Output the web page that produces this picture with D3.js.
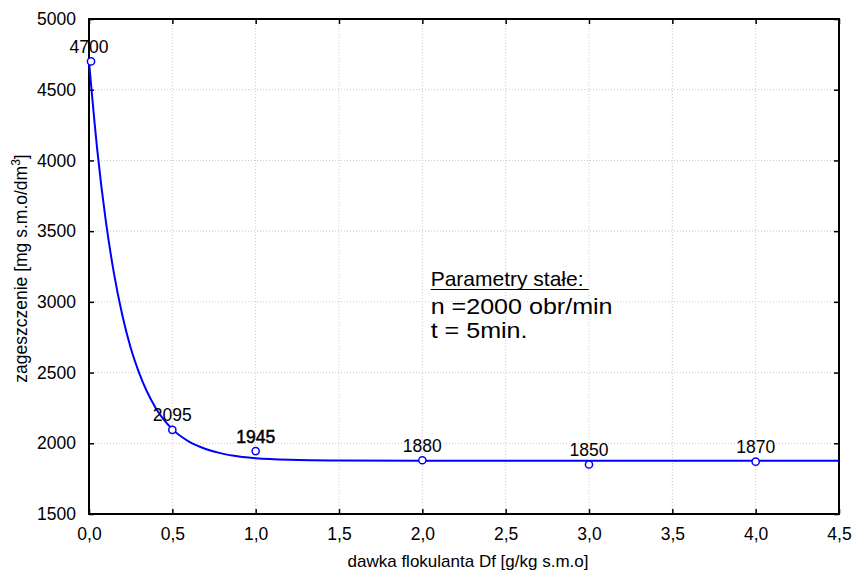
<!DOCTYPE html>
<html>
<head>
<meta charset="utf-8">
<script src="https://cdn.jsdelivr.net/npm/d3@7"></script>
<style>
  body { margin: 0; background: #fff; }
  text { font-family: "Liberation Sans", Arial, sans-serif; fill: #000; }
</style>
</head>
<body>
<figure id="chart" style="margin:0"></figure>
<script>
// measured points
const doses = [0, 0.5, 1, 2, 3, 4];
const thickening = [4700, 2095, 1945, 1880, 1850, 1870];

// fitted curve
const curveX = [0, 0.05, 0.1, 0.15, 0.2, 0.25, 0.3, 0.4, 0.5, 0.6, 0.7, 0.8, 0.9, 1.0, 1.2, 1.5, 2.0, 3.0, 4.0, 4.5];
const curveY = [4700, 4070, 3580, 3200, 2905, 2675, 2500, 2250, 2100, 2012, 1960, 1927, 1907, 1895, 1884, 1879, 1877, 1877, 1877, 1877];

const xTicks = [0, 0.5, 1, 1.5, 2, 2.5, 3, 3.5, 4, 4.5];
const yTicks = [1500, 2000, 2500, 3000, 3500, 4000, 4500, 5000];

const W = 855, H = 572;
const margin = { left: 89, top: 19, right: 16, bottom: 58 };
const width = W - margin.left - margin.right;
const height = H - margin.top - margin.bottom;

const svg = d3.select("figure#chart")
  .append("svg")
  .attr("width", W)
  .attr("height", H);

const g = svg.append("g")
  .attr("transform", `translate(${margin.left}, ${margin.top})`);

const x = d3.scaleLinear().domain([0, 4.5]).range([0, width]);
const y = d3.scaleLinear().domain([1500, 5000]).range([height, 0]);
const fmt = d => d3.format(".1f")(d).replace(".", ",");

// grid
g.append("g").selectAll("line")
  .data(xTicks.slice(1, -1))
  .enter().append("line")
  .attr("x1", d => x(d)).attr("x2", d => x(d))
  .attr("y1", 0).attr("y2", height)
  .attr("stroke", "#c8c8c8").attr("stroke-dasharray", "1,2");
g.append("g").selectAll("line")
  .data(yTicks.slice(1, -1))
  .enter().append("line")
  .attr("x1", 0).attr("x2", width)
  .attr("y1", d => y(d)).attr("y2", d => y(d))
  .attr("stroke", "#c8c8c8").attr("stroke-dasharray", "1,2");

// axes, ticks inside on all four sides
const styleAxis = sel => {
  sel.select(".domain").remove();
  sel.selectAll(".tick line").attr("stroke", "#000").attr("stroke-width", 1.5);
  sel.selectAll("text").style("font-size", "17.5px").attr("fill", "#000");
};
g.append("g")
  .attr("transform", `translate(0,${height})`)
  .call(d3.axisBottom(x).tickValues(xTicks).tickSizeInner(-5).tickSizeOuter(0).tickPadding(14).tickFormat(fmt))
  .call(styleAxis);
g.append("g")
  .call(d3.axisLeft(y).tickValues(yTicks).tickSizeInner(-5).tickSizeOuter(0).tickPadding(13).tickFormat(d3.format("d")))
  .call(styleAxis);
g.append("g")
  .call(d3.axisTop(x).tickValues(xTicks).tickSizeInner(-5).tickSizeOuter(0).tickFormat(""))
  .call(styleAxis);
g.append("g")
  .attr("transform", `translate(${width},0)`)
  .call(d3.axisRight(y).tickValues(yTicks).tickSizeInner(-5).tickSizeOuter(0).tickFormat(""))
  .call(styleAxis);

// frame
g.append("rect")
  .attr("width", width).attr("height", height)
  .attr("fill", "none").attr("stroke", "#000").attr("stroke-width", 2);

// fitted curve
const line = d3.line()
  .x((d, i) => x(curveX[i]))
  .y(d => y(d))
  .curve(d3.curveMonotoneX);
g.append("path")
  .datum(curveY)
  .attr("d", line)
  .attr("fill", "none")
  .attr("stroke", "#0000ff")
  .attr("stroke-width", 2);

// markers
g.append("g").selectAll("circle")
  .data(thickening)
  .enter().append("circle")
  .attr("cx", (d, i) => x(doses[i]) + (i === 0 ? 2 : 0))
  .attr("cy", d => y(d))
  .attr("r", 3.6)
  .attr("fill", "#fff")
  .attr("stroke", "#0000ff")
  .attr("stroke-width", 1.5);

// value labels
g.append("g").selectAll("text")
  .data(thickening)
  .enter().append("text")
  .attr("x", (d, i) => x(doses[i]))
  .attr("y", d => y(d) - 8.5)
  .attr("text-anchor", "middle")
  .style("font-size", "17.5px")
  .attr("stroke", d => d === 1945 ? "#000" : "none")
  .attr("stroke-width", 0.5)
  .text(d => d);

// note
const note = g.append("g").attr("transform", `translate(${x(2.05)}, 0)`);
note.append("text")
  .attr("x", 0).attr("y", y(3112))
  .style("font-size", "21px")
  .text("Parametry stałe:");
note.append("line")
  .attr("x1", 0).attr("x2", 158)
  .attr("y1", y(3112) + 3.5).attr("y2", y(3112) + 3.5)
  .attr("stroke", "#000").attr("stroke-width", 1.2);
note.append("text")
  .attr("transform", `translate(0, ${y(2914)}) scale(1.14, 1)`)
  .style("font-size", "22px")
  .text("n =2000 obr/min");
note.append("text")
  .attr("transform", `translate(0, ${y(2742)}) scale(1.14, 1)`)
  .style("font-size", "22px")
  .text("t = 5min.");

// axis titles
svg.append("text")
  .attr("x", margin.left + width / 2 + 4)
  .attr("y", 567)
  .attr("text-anchor", "middle")
  .style("font-size", "17px")
  .text("dawka flokulanta Df [g/kg s.m.o]");

const yTitle = svg.append("text")
  .attr("transform", `translate(27, ${margin.top + height / 2 + 2}) rotate(-90)`)
  .attr("text-anchor", "middle")
  .style("font-size", "17.5px");
yTitle.append("tspan").text("zageszczenie [mg s.m.o/dm");
yTitle.append("tspan").attr("dy", -7).style("font-size", "12px").text("3");
yTitle.append("tspan").attr("dy", 7).text("]");
</script>
</body>
</html>
